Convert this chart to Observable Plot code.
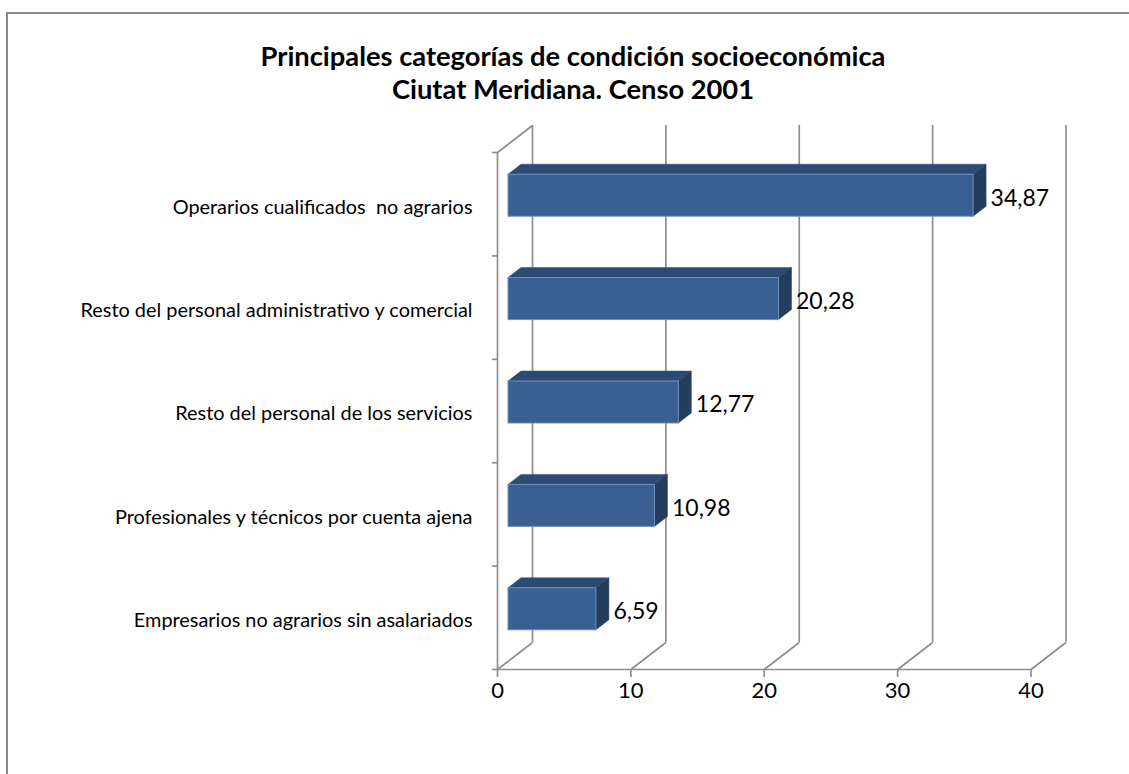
<!DOCTYPE html>
<html>
<head>
<meta charset="utf-8">
<script src="https://cdn.jsdelivr.net/npm/d3@7"></script>
<script src="https://cdn.jsdelivr.net/npm/@observablehq/plot@0.6"></script>
<style>
  html, body { margin: 0; padding: 0; background: #fff; overflow: hidden; }
  #wrap { position: relative; width: 1129px; height: 774px; overflow: hidden; }
  #border { position: absolute; left: 6px; top: 12px; width: 1140px; height: 790px; border: 2px solid #8a8a8a; box-sizing: border-box; }
  #title { position: absolute; left: 173px; width: 800px; top: 39px; text-align: center;
           font-family: Lato, "Open Sans", sans-serif; font-weight: 700; font-size: 27.3px; line-height: 33px; color: #000; }
  #chart { position: absolute; left: 0; top: 0; }
  #chart text { white-space: pre; }
</style>
</head>
<body>
<div id="wrap">
  <div id="border"></div>
  <div id="chart"></div>
  <div id="title">Principales categorías de condición socioeconómica<br>Ciutat Meridiana. Censo 2001</div>
</div>
<script>
// ---- data ----
const categories = [
  "Operarios cualificados  no agrarios",
  "Resto del personal administrativo y comercial",
  "Resto del personal de los servicios",
  "Profesionales y técnicos por cuenta ajena",
  "Empresarios no agrarios sin asalariados"
];
const values = [34.87, 20.28, 12.77, 10.98, 6.59];
const xTicks = [0, 10, 20, 30, 40];

// ---- layout ----
const W = 1129, H = 774;
const mL = 497, mR = W - 1030.5, mT = 152, mB = H - 669;
const xDomain = [0, 40], yDomain = [0, categories.length];
const kx = (W - mL - mR) / (xDomain[1] - xDomain[0]);   // px per x unit
const ky = (H - mT - mB) / (yDomain[1] - yDomain[0]);   // px per y unit
const WALL = [35, -27];      // depth of chart walls in px
const BAR_OFF = [11, -8.5];  // bar front plane offset in px
const BAR_DEPTH = [13, -10]; // bar depth in px
const BAR_HALF = 21;         // half bar height in px
const wdx = WALL[0] / kx, wdy = -WALL[1] / ky;
const bdx = BAR_DEPTH[0] / kx, bdy = -BAR_DEPTH[1] / ky;
const bh = BAR_HALF / ky;

const n = categories.length;
const bars = categories.map((c, i) => ({cat: c, value: values[i], y: n - 0.5 - i,
  label: values[i].toFixed(2).replace(".", ",")}));
const topPts = bars.flatMap(b => [
  {cat: b.cat, y: b.y + bh, x1: 0, x2: b.value},
  {cat: b.cat, y: b.y + bh + bdy, x1: bdx, x2: b.value + bdx}
]);
const sidePts = bars.flatMap(b => [
  {cat: b.cat, x: b.value, y1: b.y - bh, y2: b.y + bh},
  {cat: b.cat, x: b.value + bdx, y1: b.y - bh + bdy, y2: b.y + bh + bdy}
]);

const grid = "#8e8e8e";
const font = "Lato, 'Open Sans', sans-serif";

const chart = Plot.plot({
  width: W, height: H,
  marginLeft: mL, marginRight: mR, marginTop: mT, marginBottom: mB,
  x: {domain: xDomain, axis: null},
  y: {domain: yDomain, axis: null},
  style: {fontFamily: font, background: "transparent", color: "#000", overflow: "visible"},
  marks: [
    // back wall gridlines
    Plot.ruleX(xTicks, {x: d => d, y1: 0, y2: n, dx: WALL[0], dy: WALL[1], stroke: grid, strokeWidth: 1.7}),
    // floor diagonals
    Plot.link(xTicks, {x1: d => d, y1: 0, x2: d => d + wdx, y2: wdy, stroke: grid, strokeWidth: 1.7}),
    // left wall
    Plot.ruleX([0], {x: d => d, y1: 0, y2: n, stroke: grid, strokeWidth: 1.7}),
    Plot.link([0], {x1: 0, y1: n, x2: wdx, y2: n + wdy, stroke: grid, strokeWidth: 1.7}),
    // front floor edge
    Plot.ruleY([0], {y: d => d, x1: 0, x2: xDomain[1], stroke: grid, strokeWidth: 1.7}),
    // axes
    Plot.axisY(d3.range(0, n + 1), {tickSize: 5, tickFormat: () => "", stroke: grid, strokeWidth: 1.7}),
    Plot.axisY(bars.map(b => b.y), {tickSize: 0, tickPadding: 25, dy: 3,
      tickFormat: d => categories[Math.round(n - 0.5 - d)], fontSize: 19.9, fill: "#000"}),
    Plot.axisX(xTicks, {tickSize: 8, tickPadding: 5, fontSize: 22, stroke: grid, strokeWidth: 1.7, fill: "#000"}),
    // bars: top face, side face, front face
    Plot.areaX(topPts, {y: "y", x1: "x1", x2: "x2", z: "cat", dx: BAR_OFF[0], dy: BAR_OFF[1],
      fill: "#2c4b73", stroke: "#2c4b73", strokeWidth: 0.5, curve: "linear"}),
    Plot.areaY(sidePts, {x: "x", y1: "y1", y2: "y2", z: "cat", dx: BAR_OFF[0], dy: BAR_OFF[1],
      fill: "#233d5e", stroke: "#233d5e", strokeWidth: 0.5, curve: "linear"}),
    Plot.rect(bars, {x1: 0, x2: "value", y1: d => d.y - bh, y2: d => d.y + bh, dx: BAR_OFF[0], dy: BAR_OFF[1],
      fill: "#386092", stroke: "#6e8fb9", strokeWidth: 1}),
    // value labels
    Plot.text(bars, {x: "value", y: "y", text: "label", dx: 28, dy: -6, textAnchor: "start",
      fontSize: 23, fill: "#000"})
  ]
});
document.getElementById("chart").appendChild(chart);
</script>
</body>
</html>
